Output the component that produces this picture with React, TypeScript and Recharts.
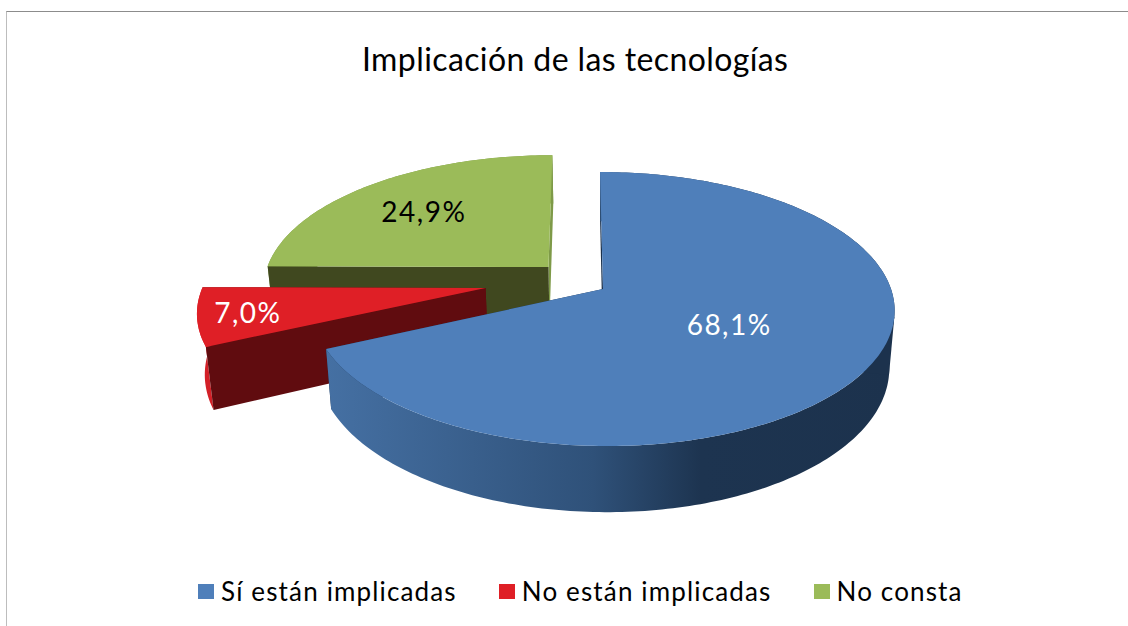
import { Cell, Legend, Pie, PieChart } from "recharts";

const categories = ["Sí están implicadas", "No están implicadas", "No consta"];
const values = [68.1, 7.0, 24.9];
const COLORS = ["#4f7fba", "#df1f26", "#9bbb59"];

// how far each slice is pulled out, and where its label sits, in units of the radius
const EXPLODE: Record<string, [number, number]> = {
  "Sí están implicadas": [0, 0],
  "No están implicadas": [-0.408, 0.0075],
  "No consta": [-0.192, 0.168],
};
const LABEL_SPOT: Record<string, [number, number]> = {
  "Sí están implicadas": [0.419, -0.252],
  "No están implicadas": [-1.205, -0.167],
  "No consta": [-0.672, 0.632],
};
const LABEL_COLOR: Record<string, string> = {
  "Sí están implicadas": "#ffffff",
  "No están implicadas": "#ffffff",
  "No consta": "#000000",
};
const SIDE_COLOR: Record<string, string> = {
  "Sí están implicadas": "#1c324d",
  "No están implicadas": "#600c0f",
  "No consta": "#40481f",
};
const RIM_FILL: Record<string, string> = {
  "Sí están implicadas": "url(#blueRim)",
  "No están implicadas": "#d32027",
  "No consta": "#7e9a48",
};
// the red slice sits a little further back: shorter radius, slightly deeper wall
const SLICE_SCALE: Record<string, [number, number]> = {
  "Sí están implicadas": [1, 1],
  "No están implicadas": [0.985, 1.05],
  "No consta": [1, 1],
};

// green is drawn first and blue last, so the table runs backwards round the pie
const tableData = categories.map((name, i) => ({ name, value: values[i] })).reverse();
const tableColors = [...COLORS].reverse();

const FONT = "Lato, sans-serif";
const PERSPECTIVE = 0.146;
const TILT = 91.9;
const LEAN = 3.4;
const DEPTH = 56.5;
const CONVERGE = 0.0184;

type P = [number, number];

function project(cx: number, cy: number, r: number, u: number, v: number): P {
  const w = 1 + PERSPECTIVE * v;
  return [cx + (r * u - LEAN * v) / w, (cy - TILT * v) / w];
}

function drop(cx: number, v: number, p: P, scale = 1): P {
  return [
    p[0] + (cx - p[0]) * CONVERGE * scale,
    p[1] + (DEPTH * scale) / (1 + PERSPECTIVE * v),
  ];
}

const toPath = (pts: P[]) =>
  "M" + pts.map((p) => `${p[0].toFixed(2)},${p[1].toFixed(2)}`).join("L") + "Z";

// the point of a rim curve furthest right, measured across the direction of the drop
const rightmost = (pts: P[]) =>
  pts.reduce((best, p) => (57 * p[0] + 5 * p[1] > 57 * best[0] + 5 * best[1] ? p : best));

function Slice3D(props: any) {
  const { cx, cy, outerRadius, startAngle, endAngle } = props;
  const name = props.name ?? props.payload?.name;
  const [ou, ov] = EXPLODE[name];
  const [radiusScale, depthScale] = SLICE_SCALE[name];

  const top: P[] = [];
  const rimBottom: P[] = [];
  const steps = Math.ceil(Math.abs(endAngle - startAngle));
  for (let i = 0; i <= steps; i++) {
    const a = ((startAngle + ((endAngle - startAngle) * i) / steps) * Math.PI) / 180;
    const u = ou + radiusScale * Math.cos(a);
    const v = ov + radiusScale * Math.sin(a);
    const p = project(cx, cy, outerRadius, u, v);
    top.push(p);
    rimBottom.push(drop(cx, v, p, depthScale));
  }
  const apex = project(cx, cy, outerRadius, ou, ov);
  const apexBottom = drop(cx, ov, apex, depthScale);
  const first = top[0];
  const last = top[top.length - 1];

  const rim = <path d={toPath([...top, ...[...rimBottom].reverse()])} fill={RIM_FILL[name]} />;
  // the big slice wraps round the front, so its rim has to hide its cut faces
  const rimOnTop = steps > 180;

  return (
    <g>
      {!rimOnTop && rim}
      <path
        d={toPath([first, apex, apexBottom, rimBottom[0]])}
        fill={name === "No consta" ? RIM_FILL[name] : SIDE_COLOR[name]}
      />
      <path
        d={toPath([last, apex, apexBottom, rimBottom[rimBottom.length - 1]])}
        fill={SIDE_COLOR[name]}
      />
      {rimOnTop && rim}
      {rimOnTop && (
        <path d={toPath([rightmost(top), rightmost(rimBottom), apexBottom])} fill={SIDE_COLOR[name]} />
      )}
      <path d={toPath([apex, ...top])} fill={props.fill} />
    </g>
  );
}

function renderLabel(props: any) {
  const { cx, cy, outerRadius, value } = props;
  const name = props.name ?? props.payload?.name;
  const [u, v] = LABEL_SPOT[name];
  const [x, y] = project(cx, cy, outerRadius, u, v);
  return (
    <text
      x={x}
      y={y}
      textAnchor="middle"
      dominantBaseline="central"
      fontFamily={FONT}
      fontSize={28}
      letterSpacing={1.5}
      fill={LABEL_COLOR[name]}
    >
      {value.toFixed(1).replace(".", ",")}%
    </text>
  );
}

function LegendRow() {
  return (
    <div
      style={{
        display: "flex",
        alignItems: "center",
        fontFamily: FONT,
        fontSize: 26,
        letterSpacing: 1.15,
        color: "#000",
        whiteSpace: "nowrap",
      }}
    >
      {categories.map((name, i) => (
        <span key={name} style={{ display: "flex", alignItems: "center", marginRight: 42 }}>
          <span style={{ width: 16, height: 15, marginRight: 7, background: COLORS[i] }} />
          {name}
        </span>
      ))}
    </div>
  );
}

export default function App() {
  return (
    <div style={{ position: "absolute", left: 0, top: 0, width: 1128, height: 626, background: "#fff", overflow: "hidden" }}>
      <div
        style={{
          position: "absolute",
          left: 6,
          top: 11,
          right: 0,
          bottom: 0,
          borderTop: "1px solid #8c8c8c",
          borderLeft: "1px solid #bdbdbd",
        }}
      />
      <div
        style={{
          position: "absolute",
          left: 362,
          top: 39,
          fontFamily: FONT,
          fontSize: 32,
          letterSpacing: 0.4,
          color: "#000",
          whiteSpace: "nowrap",
        }}
      >
        Implicación de las tecnologías
      </div>
      <PieChart width={1128} height={626} margin={{ top: 0, right: 0, bottom: 0, left: 0 }}>
        <defs>
          <linearGradient id="blueRim" x1="0" y1="0" x2="1" y2="0">
            <stop offset="0" stopColor="#4570a3" />
            <stop offset="0.47" stopColor="#2f5179" />
            <stop offset="0.66" stopColor="#1d3450" />
            <stop offset="1" stopColor="#1c324d" />
          </linearGradient>
        </defs>
        <Pie
          data={tableData}
          dataKey="value"
          nameKey="name"
          cx={603}
          cy={289}
          outerRadius={288}
          startAngle={90}
          endAngle={450}
          stroke="none"
          shape={Slice3D}
          label={renderLabel}
          labelLine={false}
          isAnimationActive={false}
        >
          {tableData.map((item, i) => (
            <Cell key={item.name} fill={tableColors[i]} />
          ))}
        </Pie>
        <Legend
          content={() => <LegendRow />}
          wrapperStyle={{ position: "absolute", left: 198, top: 575, width: 900 }}
        />
      </PieChart>
    </div>
  );
}
